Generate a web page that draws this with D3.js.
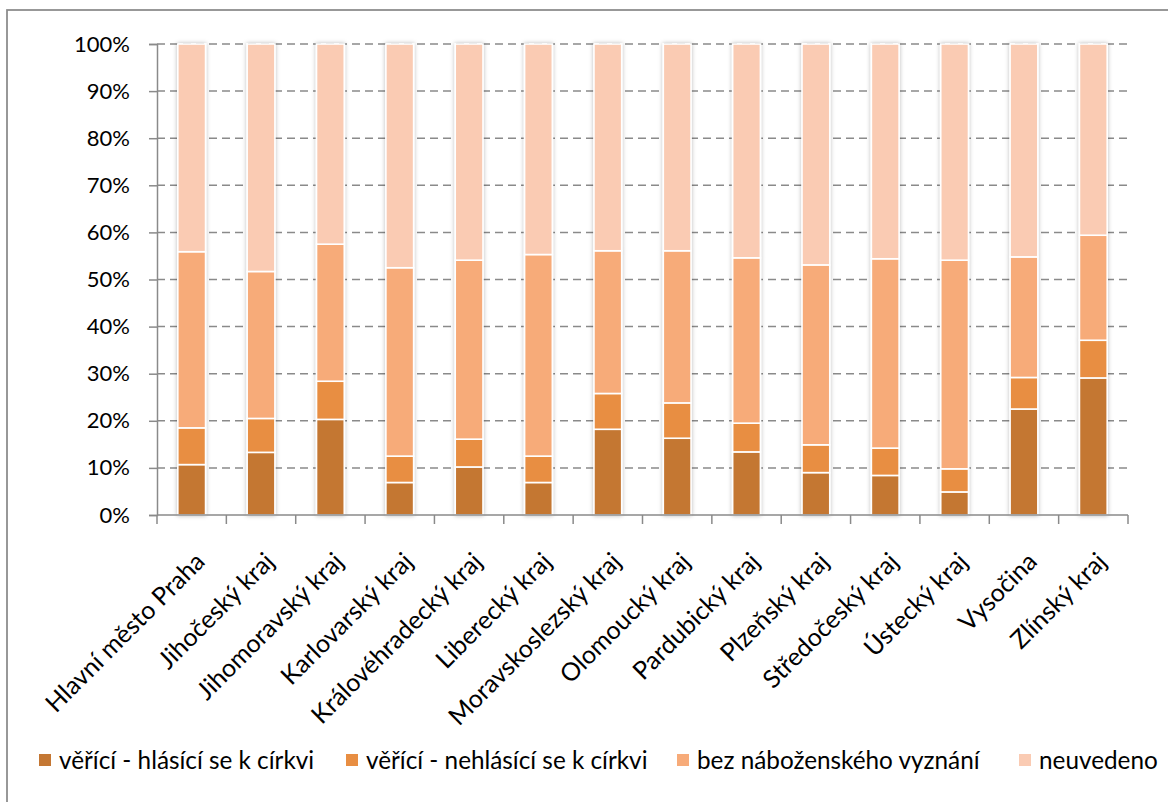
<!DOCTYPE html>
<html>
<head>
<meta charset="utf-8">
<script src="https://cdn.jsdelivr.net/npm/d3@7/dist/d3.min.js"></script>
<style>
  html, body { margin: 0; padding: 0; background: #fff; }
  svg { display: block; }
  text { font-family: Lato, "Open Sans", sans-serif; fill: #000; }
</style>
</head>
<body>
<svg id="chart" width="1168" height="802"></svg>
<script>
const categories = ["Hlavní město Praha", "Jihočeský kraj", "Jihomoravský kraj", "Karlovarský kraj",
  "Královéhradecký kraj", "Liberecký kraj", "Moravskoslezský kraj", "Olomoucký kraj",
  "Pardubický kraj", "Plzeňský kraj", "Středočeský kraj", "Ústecký kraj", "Vysočina", "Zlínský kraj"];
const seriesNames = ["věřící - hlásící se k církvi", "věřící - nehlásící se k církvi", "bez náboženského vyznání", "neuvedeno"];
const vericiHlasici   = [10.7, 13.3, 20.3, 6.9, 10.2, 6.9, 18.2, 16.3, 13.4, 9.0, 8.4, 4.9, 22.5, 29.1];
const vericiNehlasici = [7.8, 7.2, 8.1, 5.6, 5.9, 5.6, 7.6, 7.5, 6.1, 5.9, 5.8, 4.9, 6.7, 8.0];
const bezVyznani      = [37.4, 31.2, 29.1, 40.0, 38.0, 42.8, 30.3, 32.3, 35.1, 38.2, 40.2, 44.3, 25.6, 22.3];
const neuvedeno       = [44.1, 48.3, 42.5, 47.5, 45.9, 44.7, 43.9, 43.9, 45.4, 46.9, 45.6, 45.9, 45.2, 40.6];
const yTicks = [0, 10, 20, 30, 40, 50, 60, 70, 80, 90, 100];
const colors = ["#C47733", "#E88E42", "#F7AB79", "#FACBB3"];

const svg = d3.select("#chart");
const margin = { left: 157, right: 1128, top: 44, bottom: 515 };

// outer chart border
svg.append("rect").attr("x", 7).attr("y", 10).attr("width", 1200).attr("height", 900)
  .attr("fill", "none").attr("stroke", "#8a8a8a").attr("stroke-width", 1.75);

const defs = svg.append("defs");
const f = defs.append("filter").attr("id", "shadow").attr("x", "-40%").attr("y", "-10%").attr("width", "180%").attr("height", "120%");
f.append("feDropShadow").attr("dx", 0).attr("dy", 0).attr("stdDeviation", 2.2).attr("flood-color", "#000").attr("flood-opacity", 0.28);

const x = d3.scaleBand().domain(categories).range([margin.left, margin.right]).paddingInner(0.6).paddingOuter(0.3);
const y = d3.scaleLinear().domain([0, 100]).range([margin.bottom, margin.top]);

// gridlines
svg.append("g").selectAll("line").data(yTicks.filter(d => d > 0)).join("line")
  .attr("x1", margin.left).attr("x2", margin.right)
  .attr("y1", d => y(d)).attr("y2", d => y(d))
  .attr("stroke", "#8a8a8a").attr("stroke-width", 1.5).attr("stroke-dasharray", "8,5");

// y axis
const yAxis = d3.axisLeft(y).tickValues(yTicks).tickFormat(d => d + "%").tickSize(8).tickPadding(19);
const gy = svg.append("g").attr("transform", `translate(${margin.left},0)`).call(yAxis);
gy.select(".domain").attr("stroke", "#8a8a8a").attr("stroke-width", 1.5);
gy.selectAll(".tick line").attr("stroke", "#8a8a8a").attr("stroke-width", 1.5);
gy.selectAll(".tick text").style("font-family", "Lato, sans-serif").style("font-size", "22px").attr("fill", "#000");

// stacked data
const rows = categories.map((c, i) => ({ cat: c, s0: vericiHlasici[i], s1: vericiNehlasici[i], s2: bezVyznani[i], s3: neuvedeno[i] }));
const stack = d3.stack().keys(["s0", "s1", "s2", "s3"]);
const stacked = stack(rows);

const bars = svg.append("g").attr("filter", "url(#shadow)");
stacked.forEach((layer, li) => {
  bars.append("g").selectAll("rect").data(layer).join("rect")
    .attr("x", d => x(d.data.cat))
    .attr("width", x.bandwidth())
    .attr("y", d => y(d[1]))
    .attr("height", d => y(d[0]) - y(d[1]))
    .attr("fill", colors[li])
    .attr("stroke", "#fff").attr("stroke-width", 1.6);
});

// x axis
const xTickPos = d3.range(categories.length + 1).map(i => margin.left + i * (margin.right - margin.left) / categories.length);
svg.append("line").attr("x1", margin.left).attr("x2", margin.right).attr("y1", margin.bottom).attr("y2", margin.bottom)
  .attr("stroke", "#8a8a8a").attr("stroke-width", 1.5);
svg.append("g").selectAll("line").data(xTickPos).join("line")
  .attr("x1", d => d).attr("x2", d => d).attr("y1", margin.bottom).attr("y2", margin.bottom + 9)
  .attr("stroke", "#8a8a8a").attr("stroke-width", 1.5);

// category labels
svg.append("g").selectAll("text").data(categories).join("text")
  .attr("transform", d => `translate(${x(d) + x.bandwidth() / 2 + 8.5},${margin.bottom + 42}) rotate(-45)`)
  .attr("text-anchor", "end").attr("dy", "0.35em")
  .style("font-size", "25px")
  .text(d => d);

// legend
const legendX = [39, 346, 677, 1019];
const lg = svg.append("g").selectAll("g").data(seriesNames).join("g")
  .attr("transform", (d, i) => `translate(${legendX[i]},760)`);
lg.append("rect").attr("x", 0).attr("y", -6).attr("width", 12).attr("height", 12)
  .attr("fill", (d, i) => colors[i]);
lg.append("text").attr("x", 20).attr("y", 0).attr("dy", "0.35em").style("font-size", "24.3px").text(d => d);
</script>
</body>
</html>
